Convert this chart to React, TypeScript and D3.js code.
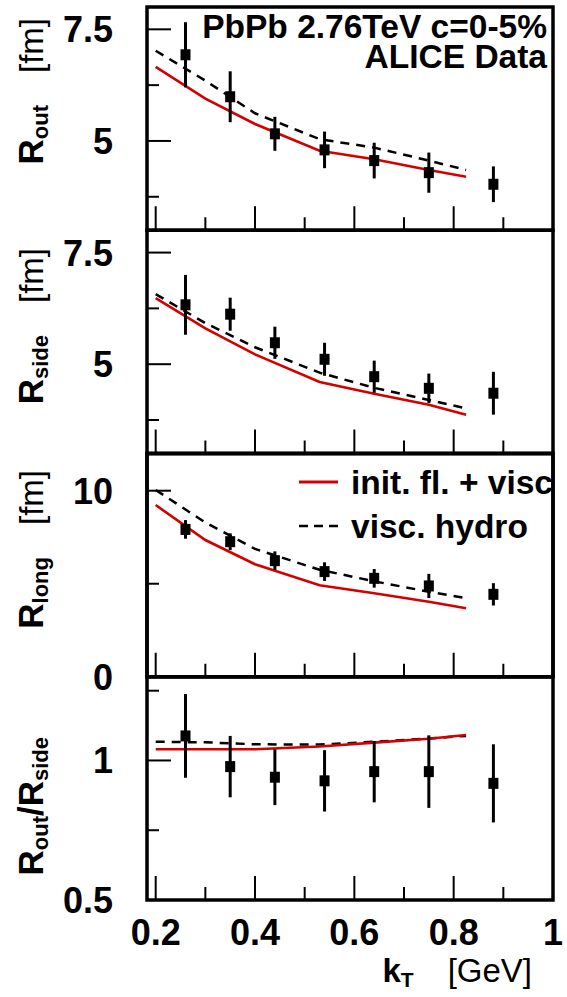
import React from "react";
import * as d3 from "d3";

// ---------- data ----------
const kT = [0.26, 0.35, 0.44, 0.54, 0.64, 0.75, 0.88];
const routVal = [6.93, 5.99, 5.16, 4.8, 4.56, 4.29, 4.03];
const routErr = [0.73, 0.57, 0.38, 0.41, 0.4, 0.45, 0.4];
const rsideVal = [6.33, 6.12, 5.48, 5.11, 4.72, 4.46, 4.35];
const rsideErr = [0.67, 0.37, 0.36, 0.37, 0.36, 0.33, 0.48];
const rlongVal = [7.92, 7.26, 6.24, 5.65, 5.29, 4.88, 4.43];
const rlongErr = [0.5, 0.45, 0.5, 0.5, 0.5, 0.65, 0.6];
const ratioVal = [1.088, 0.978, 0.94, 0.927, 0.96, 0.96, 0.918];
const ratioErr = [0.15, 0.11, 0.1, 0.11, 0.11, 0.13, 0.14];

const modelKT = [0.2, 0.3, 0.4, 0.53, 0.64, 0.75, 0.825];
const initRout = [6.66, 5.95, 5.38, 4.78, 4.59, 4.35, 4.2];
const initRside = [6.48, 5.8, 5.22, 4.6, 4.34, 4.09, 3.87];
const initRlong = [9.23, 7.35, 6.05, 4.92, 4.49, 4.03, 3.68];
const initRatio = [1.04, 1.04, 1.04, 1.05, 1.064, 1.078, 1.091];
const viscRout = [7.02, 6.35, 5.62, 5.04, 4.85, 4.56, 4.35];
const viscRside = [6.57, 5.92, 5.38, 4.81, 4.47, 4.2, 4.01];
const viscRlong = [10.04, 8.29, 6.87, 5.75, 5.13, 4.57, 4.22];
const viscRatio = [1.067, 1.065, 1.058, 1.057, 1.067, 1.079, 1.088];

const xDomain = [0.1825, 1.0];
const xMajor = [0.2, 0.4, 0.6, 0.8];
const xMinor = [0.3, 0.5, 0.7, 0.9];
const xLabels = ["0.2", "0.4", "0.6", "0.8", "1"];
const xLabelVals = [0.2, 0.4, 0.6, 0.8, 1.0];

const header1 = "PbPb 2.76TeV c=0-5%";
const header2 = "ALICE Data";
const legendLabels = ["init. fl. + visc.", "visc. hydro"];

// ---------- layout ----------
const W = 567;
const H = 997;
const left = 147;
const right = 553;
const top = 7;
const bottom = 900;
const panelH = (bottom - top) / 4;
const FONT = "'Liberation Sans', Arial, Helvetica, sans-serif";
const RED = "#d40000";

type Panel = {
  domain: [number, number];
  major: number[];
  minor: number[];
  labels: { v: number; t: string }[];
  val: number[];
  err: number[];
  init: number[];
  visc: number[];
  title: string;
  sub: string;
  title2?: string;
  sub2?: string;
  unit: boolean;
  titleEnd: number;
};

const panels: Panel[] = [
  {
    domain: [3, 8], major: [5, 7.5], minor: [3.75, 6.25],
    labels: [{ v: 7.5, t: "7.5" }, { v: 5, t: "5" }],
    val: routVal, err: routErr, init: initRout, visc: viscRout,
    title: "R", sub: "out", unit: true, titleEnd: 18,
  },
  {
    domain: [3, 8], major: [5, 7.5], minor: [3.75, 6.25],
    labels: [{ v: 7.5, t: "7.5" }, { v: 5, t: "5" }],
    val: rsideVal, err: rsideErr, init: initRside, visc: viscRside,
    title: "R", sub: "side", unit: true, titleEnd: 248,
  },
  {
    domain: [0, 12], major: [10], minor: [5],
    labels: [{ v: 10, t: "10" }, { v: 0, t: "0" }],
    val: rlongVal, err: rlongErr, init: initRlong, visc: viscRlong,
    title: "R", sub: "long", unit: true, titleEnd: 470,
  },
  {
    domain: [0.5, 1.3], major: [1], minor: [0.75, 1.25],
    labels: [{ v: 1, t: "1" }, { v: 0.5, t: "0.5" }],
    val: ratioVal, err: ratioErr, init: initRatio, visc: viscRatio,
    title: "R", sub: "out", title2: "/R", sub2: "side", unit: false, titleEnd: 737,
  },
];

const x = d3.scaleLinear().domain(xDomain).range([left, right]);

export default function App() {
  return (
    <svg width={W} height={H} style={{ display: "block", position: "absolute", left: 0, top: 0, background: "#fff" }} fontFamily={FONT}>
      <defs>
        <clipPath id="legclip">
          <rect x={0} y={0} width={right + 2} height={H} />
        </clipPath>
      </defs>
      <rect x={0} y={0} width={W} height={H} fill="#fff" />
      {panels.map((p, i) => {
        const y0 = top + i * panelH;
        const y1 = y0 + panelH;
        const y = d3.scaleLinear().domain(p.domain).range([y1, y0]);
        const line = d3
          .line<number>()
          .x((_, j) => x(modelKT[j]))
          .y((d) => y(d));
        return (
          <g key={i}>
            {/* model curves */}
            <path d={line(p.visc) || ""} fill="none" stroke="#000" strokeWidth={2.5} strokeDasharray="9,7" />
            <path d={line(p.init) || ""} fill="none" stroke={RED} strokeWidth={2.6} />
            {/* data */}
            {kT.map((k, j) => (
              <g key={j}>
                <line x1={x(k)} x2={x(k)} y1={y(p.val[j] + p.err[j])} y2={y(p.val[j] - p.err[j])} stroke="#000" strokeWidth={3} />
                <rect x={x(k) - 5} y={y(p.val[j]) - 5.5} width={10} height={11} fill="#000" />
              </g>
            ))}
            {/* y ticks */}
            {p.major.map((v) => (
              <line key={"M" + v} x1={left} x2={left + 24} y1={y(v)} y2={y(v)} stroke="#000" strokeWidth={2} />
            ))}
            {p.minor.map((v) => (
              <line key={"m" + v} x1={left} x2={left + 12} y1={y(v)} y2={y(v)} stroke="#000" strokeWidth={2} />
            ))}
            {/* x ticks */}
            {xMajor.map((v) => (
              <line key={"xM" + v} x1={x(v)} x2={x(v)} y1={y1} y2={y1 - 24} stroke="#000" strokeWidth={2} />
            ))}
            {xMinor.map((v) => (
              <line key={"xm" + v} x1={x(v)} x2={x(v)} y1={y1} y2={y1 - 13} stroke="#000" strokeWidth={2} />
            ))}
            {/* y labels */}
            {p.labels.map((l) => (
              <text key={"l" + l.t} x={113} y={y(l.v) + 13} textAnchor="end" fontSize={36} fontWeight="bold">
                {l.t}
              </text>
            ))}
            {/* y title */}
            <text transform={`translate(43, ${p.titleEnd}) rotate(-90)`} textAnchor="end" fontSize={35} fontWeight="bold">
              <tspan>{p.title}</tspan>
              <tspan fontSize={22} dy={5}>{p.sub}</tspan>
              {p.title2 ? (
                <>
                  <tspan dy={-5}>{p.title2}</tspan>
                  <tspan fontSize={22} dy={5}>{p.sub2}</tspan>
                </>
              ) : null}
              {p.unit ? (
                <tspan dy={-5} dx={32} fontWeight="normal" fontSize={33}>[fm]</tspan>
              ) : null}
            </text>
            {/* frame */}
            <rect x={left} y={y0} width={right - left} height={panelH} fill="none" stroke="#000" strokeWidth={3.5} />
          </g>
        );
      })}

      {/* header text */}
      <text x={547} y={38} textAnchor="end" fontSize={33.5} fontWeight="bold">{header1}</text>
      <text x={547} y={68} textAnchor="end" fontSize={33.5} fontWeight="bold">{header2}</text>

      {/* legend */}
      <line x1={299} x2={338} y1={482} y2={482} stroke={RED} strokeWidth={3} />
      <g clipPath="url(#legclip)">
        <text x={351} y={494} fontSize={33.5} fontWeight="bold">{legendLabels[0]}</text>
      </g>
      <line x1={299} x2={338} y1={526} y2={526} stroke="#000" strokeWidth={2.5} strokeDasharray="9,6" />
      <text x={351} y={538} fontSize={33.5} fontWeight="bold">{legendLabels[1]}</text>
      <rect x={left} y={top + 2 * panelH} width={right - left} height={panelH} fill="none" stroke="#000" strokeWidth={3.5} />

      {/* x labels */}
      {xLabelVals.map((v, i) => (
        <text key={i} x={x(v)} y={945} textAnchor="middle" fontSize={36} fontWeight="bold">{xLabels[i]}</text>
      ))}
      {/* x title */}
      <text x={532} y={982} textAnchor="end" fontSize={33} fontWeight="bold">
        <tspan>k</tspan>
        <tspan fontSize={21} dy={5}>T</tspan>
        <tspan dy={-5} dx={34} fontWeight="normal">[GeV]</tspan>
      </text>
    </svg>
  );
}
